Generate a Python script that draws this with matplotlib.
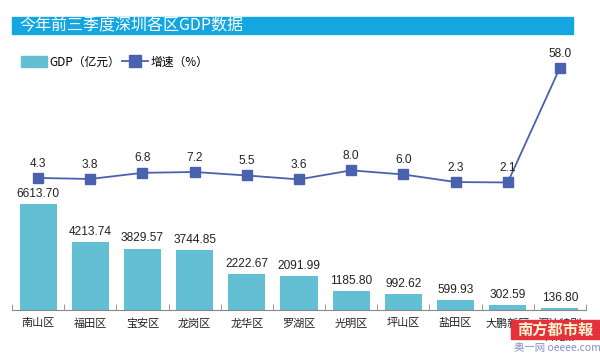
import numpy as np
import matplotlib.pyplot as plt
from matplotlib.patches import Rectangle
from matplotlib.lines import Line2D

plt.rcParams['font.family'] = ['Noto Sans CJK SC', 'DejaVu Sans']

# data
districts = ['南山区', '福田区', '宝安区', '龙岗区', '龙华区', '罗湖区',
             '光明区', '坪山区', '盐田区', '大鹏新区', '深汕特别\n合作区']
gdp = [6613.70, 4213.74, 3829.57, 3744.85, 2222.67, 2091.99,
       1185.80, 992.62, 599.93, 302.59, 136.80]
growth = [4.3, 3.8, 6.8, 7.2, 5.5, 3.6, 8.0, 6.0, 2.3, 2.1, 58.0]

bar_color = '#63BFD3'
line_color = '#4A62AE'

fig = plt.figure(figsize=(6, 3.57), dpi=100)
fig.patch.set_facecolor('white')

# title bar
fig.patches.append(Rectangle((12/600, 1 - 34/357), 561/600, 17/357,
                             transform=fig.transFigure, color='#14A6E0', zorder=0))
fig.text(19/600, 1 - 25.5/357, '今年前三季度深圳各区GDP数据', color='white',
         fontsize=11.5, va='center', ha='left')

ax = fig.add_axes([12/600, 47/357, 574/600, 260/357])
x = np.arange(len(districts))
ax.bar(x, gdp, width=0.71, color=bar_color, zorder=2)
ax.set_xlim(-0.5, len(districts) - 0.5)
ax.set_ylim(0, 6613.7 * 260 / 106)
for xi, v in zip(x, gdp):
    ax.annotate(f'{v:.2f}', (xi, v), xytext=(0, 3), textcoords='offset points',
                ha='center', va='bottom', fontsize=8.6, color='#222222',
                family=['Liberation Sans'])

for s in ['top', 'right', 'left']:
    ax.spines[s].set_visible(False)
ax.spines['bottom'].set_color('#888888')
ax.spines['bottom'].set_linewidth(0.8)
ax.set_yticks([])
ax.set_xticks(x)
ax.set_xticklabels(districts, fontsize=8, color='#222222', linespacing=1.6)
ax.tick_params(axis='x', which='major', length=0, pad=6)
ax.set_xticks(np.arange(-0.5, len(districts), 1), minor=True)
ax.tick_params(axis='x', which='minor', length=4, direction='in', color='#888888')

ax2 = ax.twinx()
ax2.set_ylim(-60.1, 66.7)
ax2.plot(x, growth, color=line_color, marker='s', ms=7, lw=1.3, zorder=3)
for xi, v in zip(x, growth):
    ax2.annotate(f'{v:.1f}', (xi, v), xytext=(0, 6), textcoords='offset points',
                 ha='center', va='bottom', fontsize=8.6, color='#222222',
                 family=['Liberation Sans'])
ax2.axis('off')

# legend
handles = [Rectangle((0, 0), 1, 1, color=bar_color),
           Line2D([], [], color=line_color, marker='s', ms=8, lw=1.3)]
fig.legend(handles, ['GDP（亿元）', '增速（%）'], loc='center left',
           bbox_to_anchor=(10/600, 1 - 62/357), ncol=2, frameon=False,
           fontsize=8.5, handlelength=2.2, handleheight=1.0, columnspacing=0.2,
           handletextpad=0.2)

# watermark
fig.patches.append(Rectangle((511/600, 1 - 339/357), 88/600, 19/357,
                             transform=fig.transFigure, color='#E3323B', zorder=5))
fig.text(555/600, 1 - 329.5/357, '南方都市報', color='#FFF3D0', fontsize=11,
         ha='center', va='center', fontweight='bold', zorder=6,
         family=['Noto Sans CJK TC', 'DejaVu Sans'])
fig.text(557/600, 1 - 348/357, '奥一网 oeeee.com', color='#8090C8', fontsize=7.5,
         ha='center', va='center', zorder=6,
         bbox=dict(facecolor='white', edgecolor='none', pad=1.5))

fig.savefig('out.png', dpi=100)
